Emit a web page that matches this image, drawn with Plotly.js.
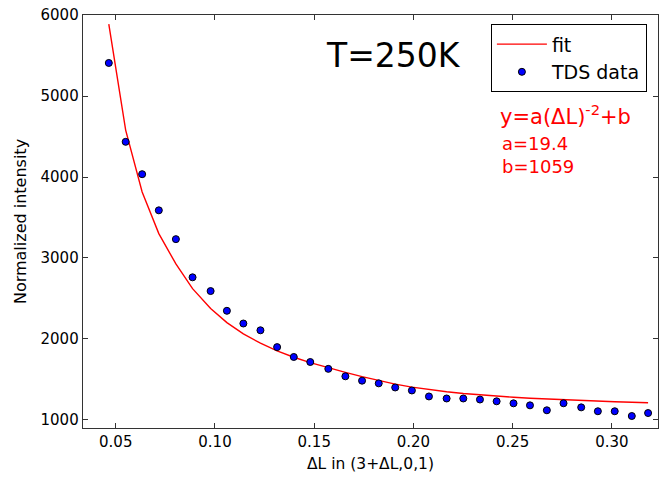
<!DOCTYPE html>
<html>
<head>
<meta charset="utf-8">
<script src="https://cdn.plot.ly/plotly-3.0.1.min.js"></script>
<style>html,body{margin:0;padding:0;background:#fff;}#chart{width:659px;height:478px;}</style>
</head>
<body>
<div id="chart"></div>
<script>
// ΔL values (x)
const deltaL = [0.0465, 0.0550, 0.0633, 0.0717, 0.0803, 0.0887, 0.0978, 0.1060, 0.1143, 0.1229,
                0.1313, 0.1397, 0.1480, 0.1571, 0.1657, 0.1741, 0.1825, 0.1908, 0.1992, 0.2078,
                0.2167, 0.2251, 0.2335, 0.2419, 0.2504, 0.2587, 0.2672, 0.2756, 0.2845, 0.2929,
                0.3014, 0.3100, 0.3182];
// measured TDS data
const tdsData = [5410, 4435, 4035, 3588, 3232, 2760, 2590, 2346, 2189, 2105,
                 1897, 1775, 1713, 1628, 1536, 1482, 1449, 1398, 1361, 1287,
                 1262, 1262, 1249, 1227, 1202, 1177, 1116, 1203, 1152, 1104,
                 1104, 1045, 1082];
// fit curve values at the same ΔL
const fitValues = [5890, 4580, 3815, 3300, 2925, 2620, 2375, 2200, 2060, 1945,
                   1850, 1772, 1706, 1640, 1585, 1532, 1483, 1440, 1402, 1372,
                   1346, 1324, 1306, 1291, 1277, 1265, 1255, 1246, 1237, 1229,
                   1222, 1215, 1209];
const xTickVals = [0.05, 0.10, 0.15, 0.20, 0.25, 0.30];
const xTickText = ["0.05", "0.10", "0.15", "0.20", "0.25", "0.30"];
const yTickVals = [1000, 2000, 3000, 4000, 5000, 6000];

const FONT = "DejaVu Sans, Verdana, sans-serif";

const traces = [
  {
    x: deltaL, y: fitValues, type: "scatter", mode: "lines", name: "fit",
    line: {color: "#ff0000", width: 1.4}
  },
  {
    x: deltaL, y: tdsData, type: "scatter", mode: "markers", name: "TDS data",
    marker: {color: "#0000ff", size: 7, line: {color: "#000000", width: 1}}
  }
];

const axisCommon = {
  showgrid: false, zeroline: false, showline: true, linecolor: "#333333", linewidth: 1.3,
  mirror: "ticks", ticks: "inside", ticklen: 5, tickwidth: 1, tickcolor: "#333333",
  tickfont: {family: FONT, size: 15, color: "#000"}
};

const layout = {
  width: 659, height: 478,
  margin: {l: 83, r: 1, t: 15, b: 50, pad: 0},
  paper_bgcolor: "#ffffff", plot_bgcolor: "#ffffff",
  font: {family: FONT, color: "#000"},
  showlegend: true,
  xaxis: Object.assign({}, axisCommon, {
    range: [0.0335, 0.3232], tickvals: xTickVals, ticktext: xTickText,
    title: {text: "ΔL in (3+ΔL,0,1)", font: {family: FONT, size: 15.5}, standoff: 8}
  }),
  yaxis: Object.assign({}, axisCommon, {
    range: [897, 6003], tickvals: yTickVals,
    title: {text: "Normalized intensity", font: {family: FONT, size: 16}, standoff: 10}
  }),
  legend: {
    x: 0.7094, y: 0.9775, xanchor: "left", yanchor: "top",
    bordercolor: "#000000", borderwidth: 1, bgcolor: "#ffffff",
    font: {family: FONT, size: 19, color: "#000"}, itemwidth: 50
  },
  annotations: [
    {xref: "paper", yref: "paper", x: 0.419, y: 0.9024, xanchor: "left", yanchor: "middle",
     text: "T=250K", showarrow: false, font: {family: FONT, size: 33, color: "#000"}},
    {xref: "paper", yref: "paper", x: 0.721, y: 0.7579, xanchor: "left", yanchor: "middle",
     text: "y=a(ΔL)<sup>-2</sup>+b", showarrow: false, font: {family: FONT, size: 21, color: "#ff0000"}},
    {xref: "paper", yref: "paper", x: 0.726, y: 0.6893, xanchor: "left", yanchor: "middle",
     text: "a=19.4", showarrow: false, font: {family: FONT, size: 18, color: "#ff0000"}},
    {xref: "paper", yref: "paper", x: 0.726, y: 0.6337, xanchor: "left", yanchor: "middle",
     text: "b=1059", showarrow: false, font: {family: FONT, size: 18, color: "#ff0000"}}
  ]
};

Plotly.newPlot("chart", traces, layout, {staticPlot: true, displayModeBar: false});
</script>
</body>
</html>
